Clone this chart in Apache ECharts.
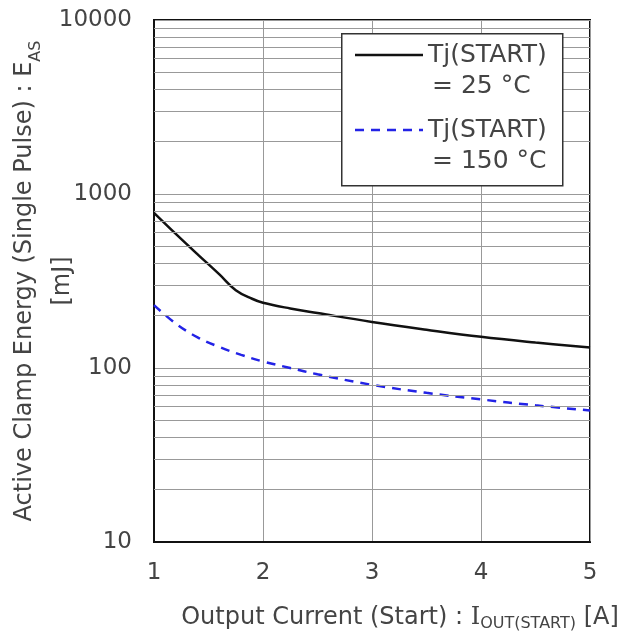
<!DOCTYPE html>
<html><head><meta charset="utf-8">
<script src="https://cdn.jsdelivr.net/npm/echarts@6/dist/echarts.min.js"></script>
<style>html,body{margin:0;padding:0;background:#fff}#c{width:622px;height:634px}</style>
</head><body><div id="c"></div>
<script>
var xTicks = [1, 2, 3, 4, 5];
var yTickLabels = [10, 100, 1000, 10000];
var minorGrid = [20,30,40,50,60,70,80,90,200,300,400,500,600,700,800,900,2000,3000,4000,5000,6000,7000,8000,9000];
var current25 = [1, 1.2, 1.4, 1.6, 1.75, 1.9, 2, 2.25, 2.5, 3, 3.5, 4, 4.5, 5];
var energy25 = [780, 590, 450, 345, 280, 250, 237, 220, 207, 184, 166, 151, 140, 131];
var current150 = [1, 1.2, 1.4, 1.6, 1.8, 2, 2.25, 2.5, 3, 3.5, 4, 4.5, 5];
var energy150 = [230, 180, 150, 132, 119, 109, 100, 92, 80, 72, 66, 61, 57];
var legend1 = ['Tj(START)', '= 25 °C'];
var legend2 = ['Tj(START)', '= 150 °C'];

var FONT = 'DejaVu Sans';
var TXT = '#444';
function pairs(xs, ys){ return xs.map(function(x,i){ return [x, ys[i]]; }); }

var chart = echarts.init(document.getElementById('c'), null, {renderer:'canvas'});
chart.setOption({
  animation: false,
  backgroundColor: '#fff',
  grid: {left:154, top:20, right:32, bottom:92, show:true, borderColor:'#111', borderWidth:2,
    backgroundColor:'transparent', containLabel:false, outerBoundsMode:'none'},
  xAxis: {
    type:'value', min:xTicks[0], max:xTicks[xTicks.length-1], interval:1,
    axisLine:{show:true, lineStyle:{color:'#111', width:2}},
    axisTick:{show:false},
    axisLabel:{color:TXT, fontFamily:FONT, fontSize:23, margin:20,
      formatter:function(v){ return xTicks.indexOf(v) >= 0 ? String(v) : ''; }},
    splitLine:{show:true, lineStyle:{color:'#999', width:1}},
    name:'{t|Output Current (Start) : }{i|I}{s|OUT(START)}{t| [A]}',
    nameLocation:'middle', nameGap:62, nameMoveOverlap:false,
    nameTextStyle:{padding:[0,0,0,56], rich:{
      t:{fontFamily:FONT, fontSize:24, color:TXT, lineHeight:28},
      i:{fontFamily:'DejaVu Serif', fontSize:24, color:TXT, lineHeight:28},
      s:{fontFamily:FONT, fontSize:16, color:TXT, lineHeight:22, verticalAlign:'bottom', padding:[6,0,0,0]}
    }}
  },
  yAxis: {
    type:'log', logBase:10, min:yTickLabels[0], max:yTickLabels[yTickLabels.length-1],
    axisLine:{show:true, lineStyle:{color:'#111', width:2}},
    axisTick:{show:false},
    axisLabel:{color:TXT, fontFamily:FONT, fontSize:23, margin:22,
      formatter:function(v){ return yTickLabels.indexOf(Math.round(v)) >= 0 ? String(Math.round(v)) : ''; }},
    splitLine:{show:true, lineStyle:{color:'#999', width:1}},
    minorTick:{show:false}, minorSplitLine:{show:false},
    name:'{t|Active Clamp Energy (Single Pulse) : E}{s|AS}\n{t|[mJ]}',
    nameLocation:'middle', nameRotate:90, nameGap:72, nameMoveOverlap:false,
    nameTextStyle:{align:'center', rich:{
      t:{fontFamily:FONT, fontSize:24, color:TXT, lineHeight:38, align:'center'},
      s:{fontFamily:FONT, fontSize:16, color:TXT, lineHeight:30, verticalAlign:'bottom', align:'center'}
    }}
  },
  series: [
    {type:'line', data:[], z:1, silent:true,
      markLine:{silent:true, symbol:['none','none'], label:{show:false},
        lineStyle:{color:'#999', width:1, type:'solid'},
        data: minorGrid.map(function(v){ return {yAxis:v}; })}},
    {name:'25', type:'line', data:pairs(current25, energy25), smooth:0.4, showSymbol:false, z:3,
      lineStyle:{color:'#111', width:2.5}},
    {name:'150', type:'line', data:pairs(current150, energy150), smooth:0.4, showSymbol:false, z:3,
      lineStyle:{color:'#2323e6', width:2.5, type:[9,7]}}
  ],
  graphic: [
    {type:'rect', left:341, top:33, shape:{width:221, height:152}, style:{fill:'#fff', stroke:'#333', lineWidth:1.5}, z:10},
    {type:'line', shape:{x1:355, y1:55, x2:423, y2:55}, style:{stroke:'#111', lineWidth:2.5}, z:11},
    {type:'line', shape:{x1:355, y1:130, x2:423, y2:130}, style:{stroke:'#2323e6', lineWidth:2.5, lineDash:[9,7]}, z:11},
    {type:'text', x:428, y:55, style:{text:legend1[0], fontFamily:FONT, fontSize:25, fill:TXT, verticalAlign:'middle'}, z:11},
    {type:'text', x:432, y:86, style:{text:legend1[1], fontFamily:FONT, fontSize:25, fill:TXT, verticalAlign:'middle'}, z:11},
    {type:'text', x:428, y:130, style:{text:legend2[0], fontFamily:FONT, fontSize:25, fill:TXT, verticalAlign:'middle'}, z:11},
    {type:'text', x:432, y:161, style:{text:legend2[1], fontFamily:FONT, fontSize:25, fill:TXT, verticalAlign:'middle'}, z:11}
  ]
});
</script></body></html>
